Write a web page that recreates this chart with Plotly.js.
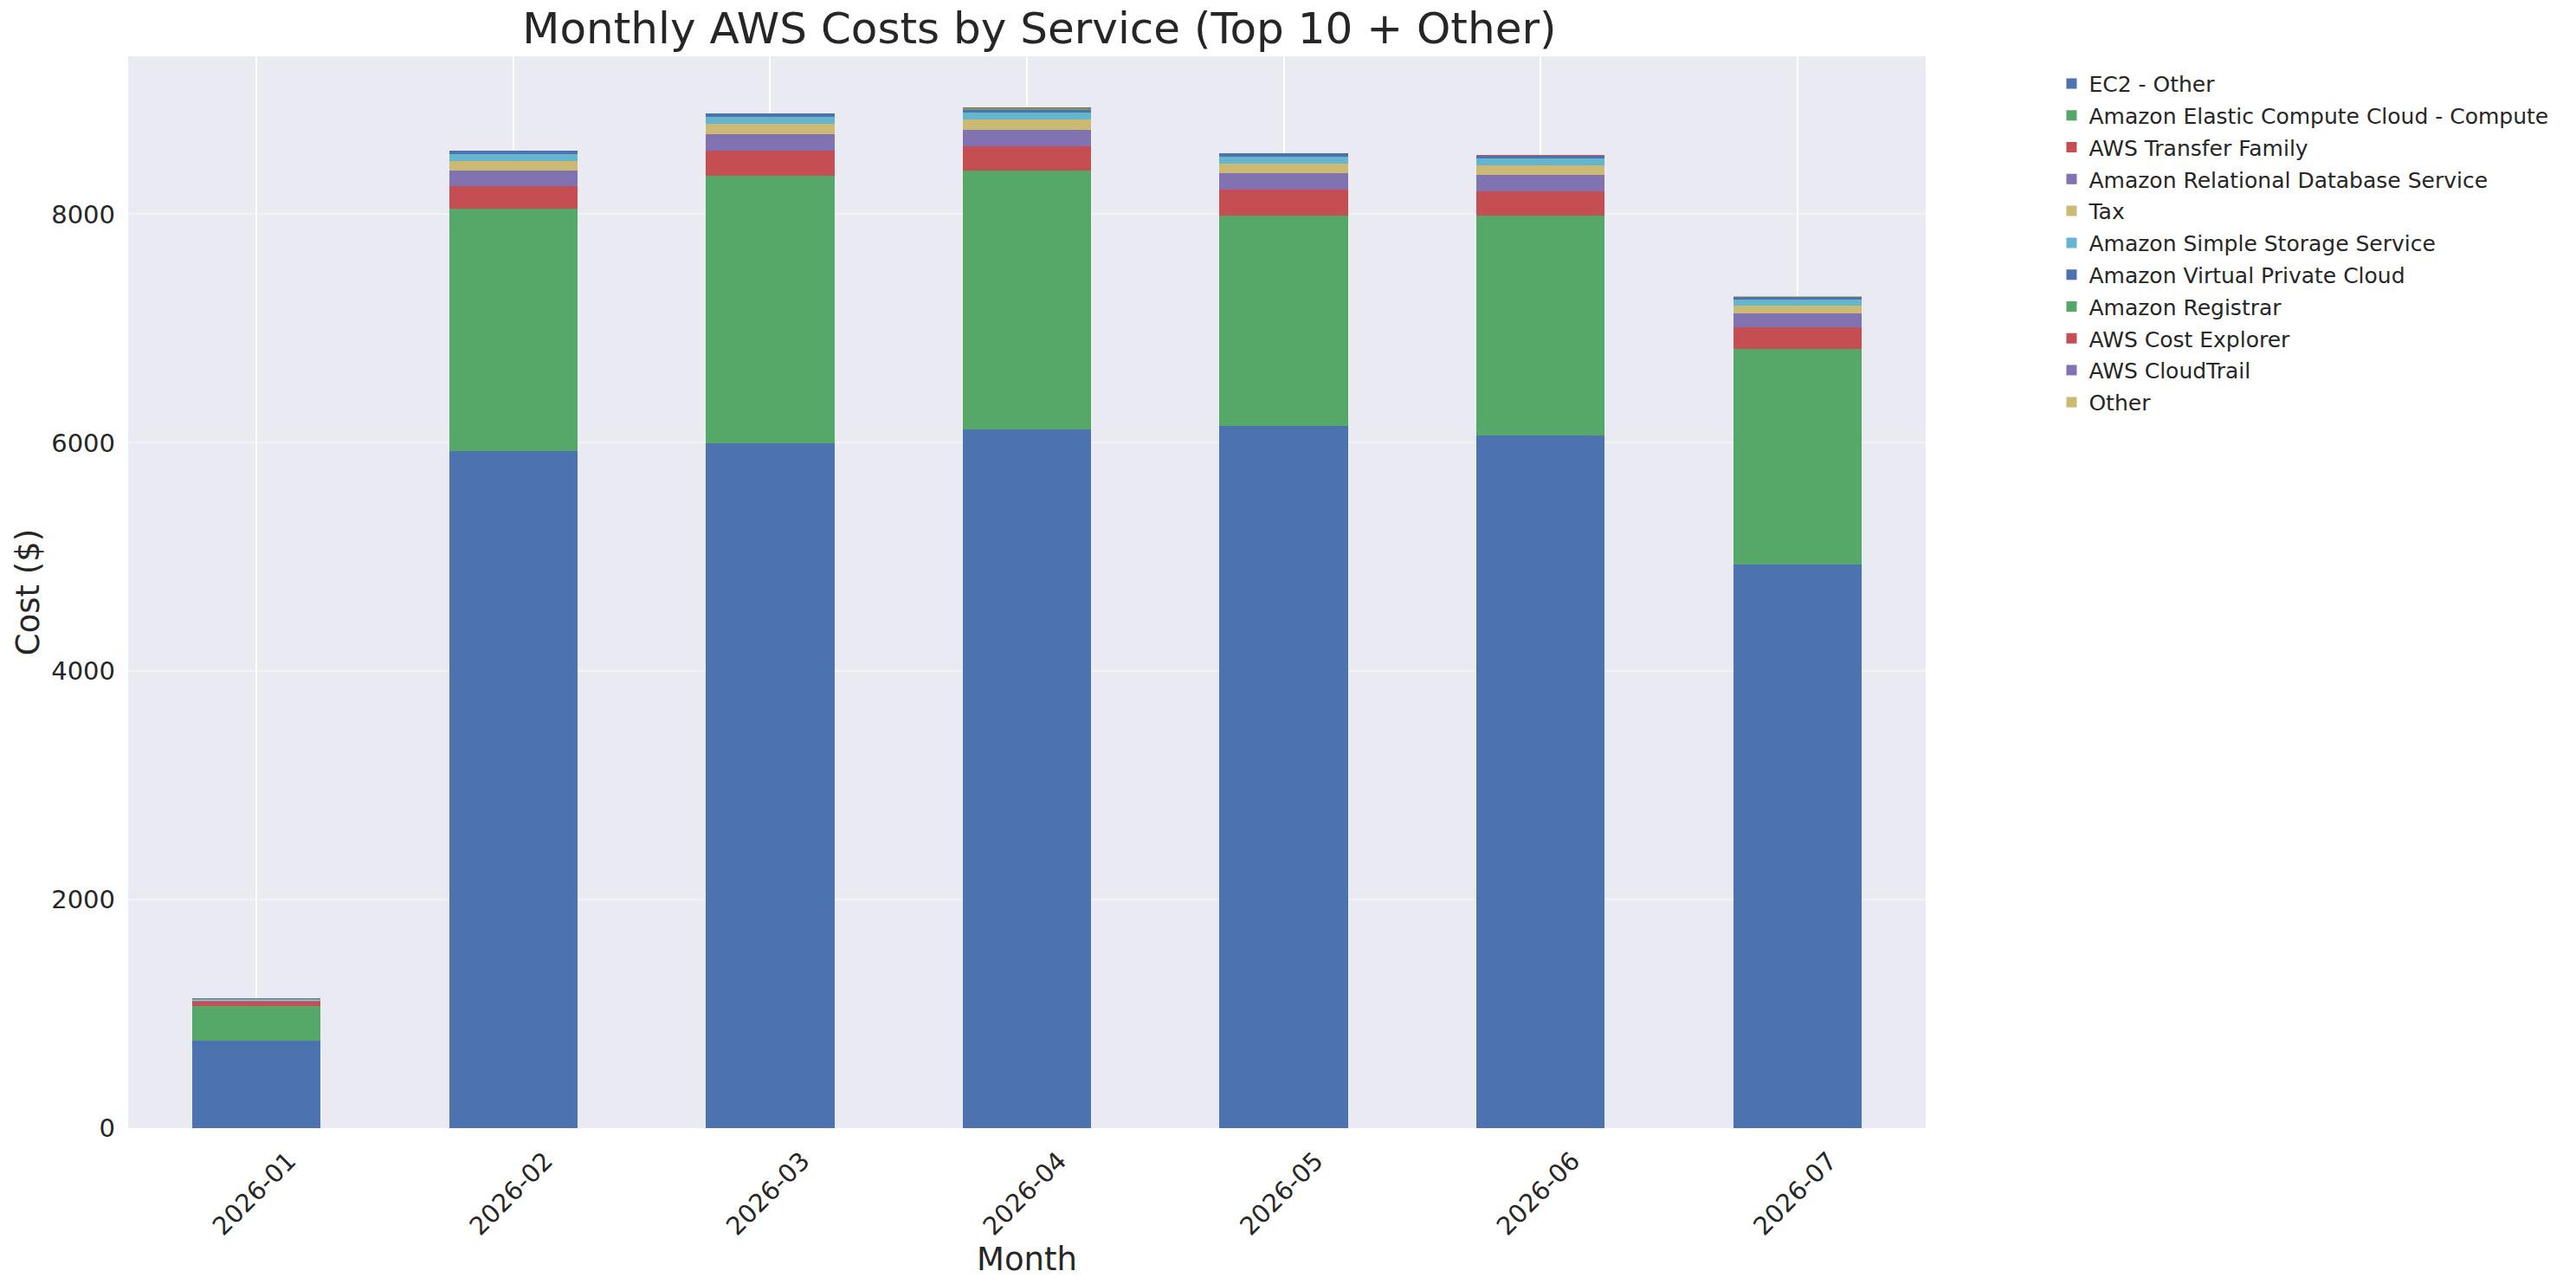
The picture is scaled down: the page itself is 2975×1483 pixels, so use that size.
<!DOCTYPE html>
<html>
<head>
<meta charset="utf-8">
<script src="https://cdn.plot.ly/plotly-3.0.1.min.js"></script>
<style>html,body{margin:0;padding:0;background:#fff;}#chart{width:2975px;height:1483px;}</style>
</head>
<body>
<div id="chart"></div>
<script>
const months = ["2026-01","2026-02","2026-03","2026-04","2026-05","2026-06","2026-07"];
const ec2Other      = [769, 5928, 5996, 6117, 6148, 6064, 4936];
const ec2Compute    = [303, 2121, 2341, 2266, 1841, 1925, 1886];
const transferFam   = [33, 197, 222, 212, 227, 212, 189];
const rds           = [12, 137, 142, 144, 144, 144, 122];
const tax           = [2, 85, 91, 91, 83, 83, 68];
const s3            = [7, 61, 60, 60, 61, 61, 53];
const vpc           = [8, 28, 30, 23, 30, 22, 23];
const registrar     = [0, 0, 0, 13, 0, 0, 0];
const costExplorer  = [0, 0, 0, 9, 0, 8, 0];
const cloudTrail    = [0, 1, 1, 1, 1, 1, 1];
const other         = [1, 2, 2, 2, 2, 2, 2];

const seriesNames = ["EC2 - Other","Amazon Elastic Compute Cloud - Compute","AWS Transfer Family","Amazon Relational Database Service","Tax","Amazon Simple Storage Service","Amazon Virtual Private Cloud","Amazon Registrar","AWS Cost Explorer","AWS CloudTrail","Other"];
const seriesValues = [ec2Other, ec2Compute, transferFam, rds, tax, s3, vpc, registrar, costExplorer, cloudTrail, other];
const colors = ["#4C72B0","#55A868","#C44E52","#8172B2","#CCB974","#64B5CD","#4C72B0","#55A868","#C44E52","#8172B2","#CCB974"];

const traces = seriesNames.map((n, i) => ({
  type: 'bar', name: n, x: months, y: seriesValues[i], width: 0.5,
  legendgroup: 'g' + i,
  marker: {color: colors[i], line: {width: 0}}, hoverinfo: 'x+y+name'
}));

const font = "DejaVu Sans, sans-serif";
const layout = {
  width: 2975, height: 1483,
  barmode: 'stack',
  paper_bgcolor: '#ffffff', plot_bgcolor: '#EAEAF2',
  font: {family: font, color: '#262626', size: 29},
  margin: {l: 148, r: 751, t: 65, b: 179.5, pad: 0},
  title: {text: 'Monthly AWS Costs by Service (Top 10 + Other)', font: {size: 50, color: '#262626', family: font}, x: 0.4035, xanchor: 'center', yref: 'container', y: 0.990, yanchor: 'top'},
  xaxis: {
    type: 'category', range: [-0.5, 6.5],
    showgrid: true, gridcolor: '#ffffff', gridwidth: 2,
    zeroline: false, showline: false, ticks: '',
    tickangle: -45, tickfont: {size: 29, family: font, color: '#262626'},
    ticklabelshift: 37, ticklabelstandoff: 14,
    title: {text: 'Month', font: {size: 37, family: font, color: '#262626'}, standoff: 6}
  },
  yaxis: {
    range: [0, 9383], tickvals: [0,2000,4000,6000,8000], ticktext: ['0','2000','4000','6000','8000'],
    showgrid: true, gridcolor: 'rgba(255,255,255,0.45)', gridwidth: 2,
    zeroline: false, showline: false, ticks: '',
    tickfont: {size: 29, family: font, color: '#262626'},
    ticklabelstandoff: 14,
    title: {text: 'Cost ($)', font: {size: 37, family: font, color: '#262626'}, standoff: 2}
  },
  legend: {
    x: 1.0715, xanchor: 'left', y: 0.993, yanchor: 'top',
    traceorder: 'grouped', font: {size: 25, family: font, color: '#262626'},
    bgcolor: 'rgba(0,0,0,0)', borderwidth: 0, tracegroupgap: 1.3, itemwidth: 30
  },
  showlegend: true
};

Plotly.newPlot('chart', traces, layout, {displayModeBar: false, staticPlot: true});
</script>
</body>
</html>
